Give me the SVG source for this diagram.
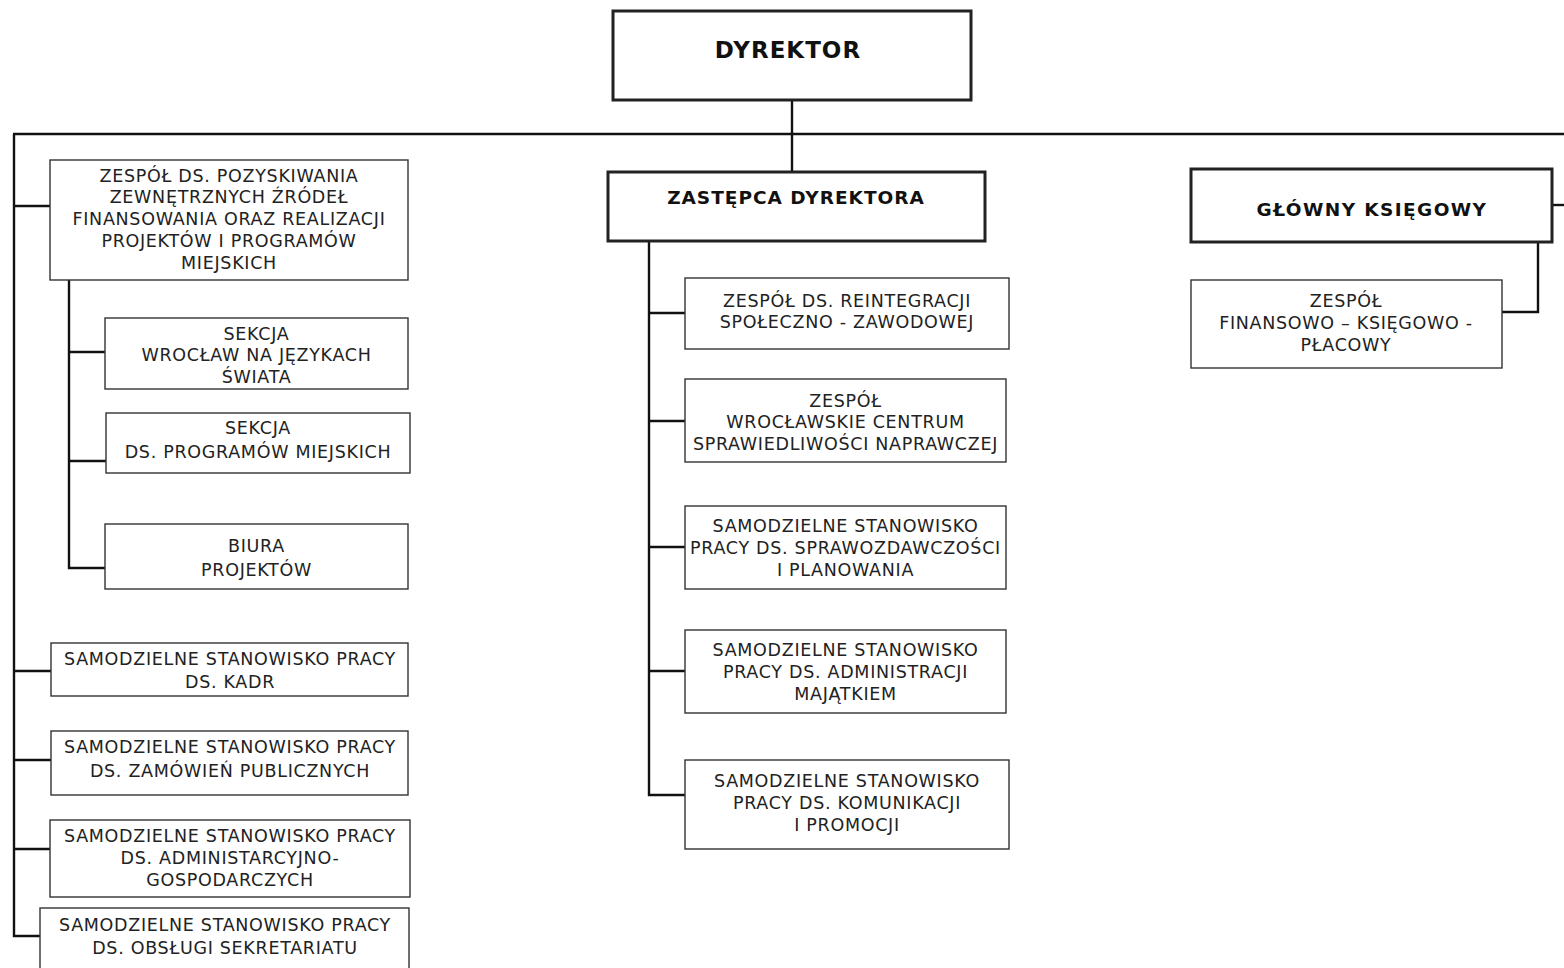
<svg xmlns="http://www.w3.org/2000/svg" width="1564" height="968" viewBox="0 0 1564 968">
<style>
.bg{fill:#fff}
.box{fill:#fff;stroke:#333;stroke-width:1.4}
.main{fill:#fff;stroke:#222;stroke-width:3}
.t{font-family:"DejaVu Sans",Verdana,sans-serif;font-size:17.5px;letter-spacing:0.7px;fill:#222;text-anchor:middle}
.b{font-family:"DejaVu Sans",Verdana,sans-serif;font-weight:bold;font-size:18.5px;letter-spacing:1px;fill:#111;text-anchor:middle}
.bb{font-size:23px}
.g{letter-spacing:1.4px}
.c{fill:none;stroke:#111;stroke-width:2.4}
</style>
<rect class="bg" x="0" y="0" width="1564" height="968"/>
<g id="connectors">
<path class="c" d="M792 100 V172"/>
<path class="c" d="M13 134 H1564"/>
<path class="c" d="M14 134 V936 H40"/>
<path class="c" d="M14 206 H50"/>
<path class="c" d="M14 671 H51"/>
<path class="c" d="M14 760 H51"/>
<path class="c" d="M14 849 H50"/>
<path class="c" d="M69 280 V568 H105"/>
<path class="c" d="M69 352 H105"/>
<path class="c" d="M69 461 H106"/>
<path class="c" d="M649 241 V795 H685"/>
<path class="c" d="M649 313 H685"/>
<path class="c" d="M649 421 H685"/>
<path class="c" d="M649 547 H685"/>
<path class="c" d="M649 671 H685"/>
<path class="c" d="M1552 205 H1564"/>
<path class="c" d="M1538 242 V312 H1502"/>
</g>
<g id="dyrektor"><rect class="main" x="613" y="11" width="358" height="89"/><text class="b bb" x="788" y="58">DYREKTOR</text></g>
<g id="zastepca"><rect class="main" x="608" y="172" width="377" height="69"/><text class="b" x="796" y="204">ZASTĘPCA DYREKTORA</text></g>
<g id="ksiegowy"><rect class="main" x="1191" y="169" width="361" height="73"/><text class="b g" x="1372" y="216">GŁÓWNY KSIĘGOWY</text></g>
<g id="finansowy"><rect class="box" x="1191" y="280" width="311" height="88"/><text class="t"><tspan x="1346" y="307">ZESPÓŁ</tspan><tspan x="1346" y="329">FINANSOWO – KSIĘGOWO -</tspan><tspan x="1346" y="351">PŁACOWY</tspan></text></g>
<g id="pozyskiwanie"><rect class="box" x="50" y="160" width="358" height="120"/><text class="t"><tspan x="229" y="182">ZESPÓŁ DS. POZYSKIWANIA</tspan><tspan x="229" y="203">ZEWNĘTRZNYCH ŹRÓDEŁ</tspan><tspan x="229" y="225">FINANSOWANIA ORAZ REALIZACJI</tspan><tspan x="229" y="247">PROJEKTÓW I PROGRAMÓW</tspan><tspan x="229" y="269">MIEJSKICH</tspan></text></g>
<g id="sekcja-wroclaw"><rect class="box" x="105" y="318" width="303" height="71"/><text class="t"><tspan x="256.5" y="340">SEKCJA</tspan><tspan x="256.5" y="361">WROCŁAW NA JĘZYKACH</tspan><tspan x="256.5" y="383">ŚWIATA</tspan></text></g>
<g id="sekcja-programy"><rect class="box" x="106" y="413" width="304" height="60"/><text class="t"><tspan x="258" y="434">SEKCJA</tspan><tspan x="258" y="458">DS. PROGRAMÓW MIEJSKICH</tspan></text></g>
<g id="biura"><rect class="box" x="105" y="524" width="303" height="65"/><text class="t"><tspan x="256.5" y="552">BIURA</tspan><tspan x="256.5" y="576">PROJEKTÓW</tspan></text></g>
<g id="kadry"><rect class="box" x="51" y="643" width="357" height="53"/><text class="t"><tspan x="230" y="665">SAMODZIELNE STANOWISKO PRACY</tspan><tspan x="230" y="688">DS. KADR</tspan></text></g>
<g id="zamowienia"><rect class="box" x="51" y="731" width="357" height="64"/><text class="t"><tspan x="230" y="753">SAMODZIELNE STANOWISKO PRACY</tspan><tspan x="230" y="777">DS. ZAMÓWIEŃ PUBLICZNYCH</tspan></text></g>
<g id="administracyjno"><rect class="box" x="50" y="820" width="360" height="77"/><text class="t"><tspan x="230" y="842">SAMODZIELNE STANOWISKO PRACY</tspan><tspan x="230" y="864">DS. ADMINISTARCYJNO-</tspan><tspan x="230" y="886">GOSPODARCZYCH</tspan></text></g>
<g id="sekretariat"><rect class="box" x="40" y="908" width="369" height="70"/><text class="t"><tspan x="225" y="931">SAMODZIELNE STANOWISKO PRACY</tspan><tspan x="225" y="954">DS. OBSŁUGI SEKRETARIATU</tspan></text></g>
<g id="reintegracja"><rect class="box" x="685" y="278" width="324" height="71"/><text class="t"><tspan x="847" y="307">ZESPÓŁ DS. REINTEGRACJI</tspan><tspan x="847" y="328">SPOŁECZNO - ZAWODOWEJ</tspan></text></g>
<g id="centrum"><rect class="box" x="685" y="379" width="321" height="83"/><text class="t"><tspan x="845.5" y="407">ZESPÓŁ</tspan><tspan x="845.5" y="428">WROCŁAWSKIE CENTRUM</tspan><tspan x="845.5" y="450">SPRAWIEDLIWOŚCI NAPRAWCZEJ</tspan></text></g>
<g id="sprawozdawczosc"><rect class="box" x="685" y="506" width="321" height="83"/><text class="t"><tspan x="845.5" y="532">SAMODZIELNE STANOWISKO</tspan><tspan x="845.5" y="554">PRACY DS. SPRAWOZDAWCZOŚCI</tspan><tspan x="845.5" y="576">I PLANOWANIA</tspan></text></g>
<g id="majatek"><rect class="box" x="685" y="630" width="321" height="83"/><text class="t"><tspan x="845.5" y="656">SAMODZIELNE STANOWISKO</tspan><tspan x="845.5" y="678">PRACY DS. ADMINISTRACJI</tspan><tspan x="845.5" y="700">MAJĄTKIEM</tspan></text></g>
<g id="komunikacja"><rect class="box" x="685" y="760" width="324" height="89"/><text class="t"><tspan x="847" y="787">SAMODZIELNE STANOWISKO</tspan><tspan x="847" y="809">PRACY DS. KOMUNIKACJI</tspan><tspan x="847" y="831">I PROMOCJI</tspan></text></g>
</svg>
